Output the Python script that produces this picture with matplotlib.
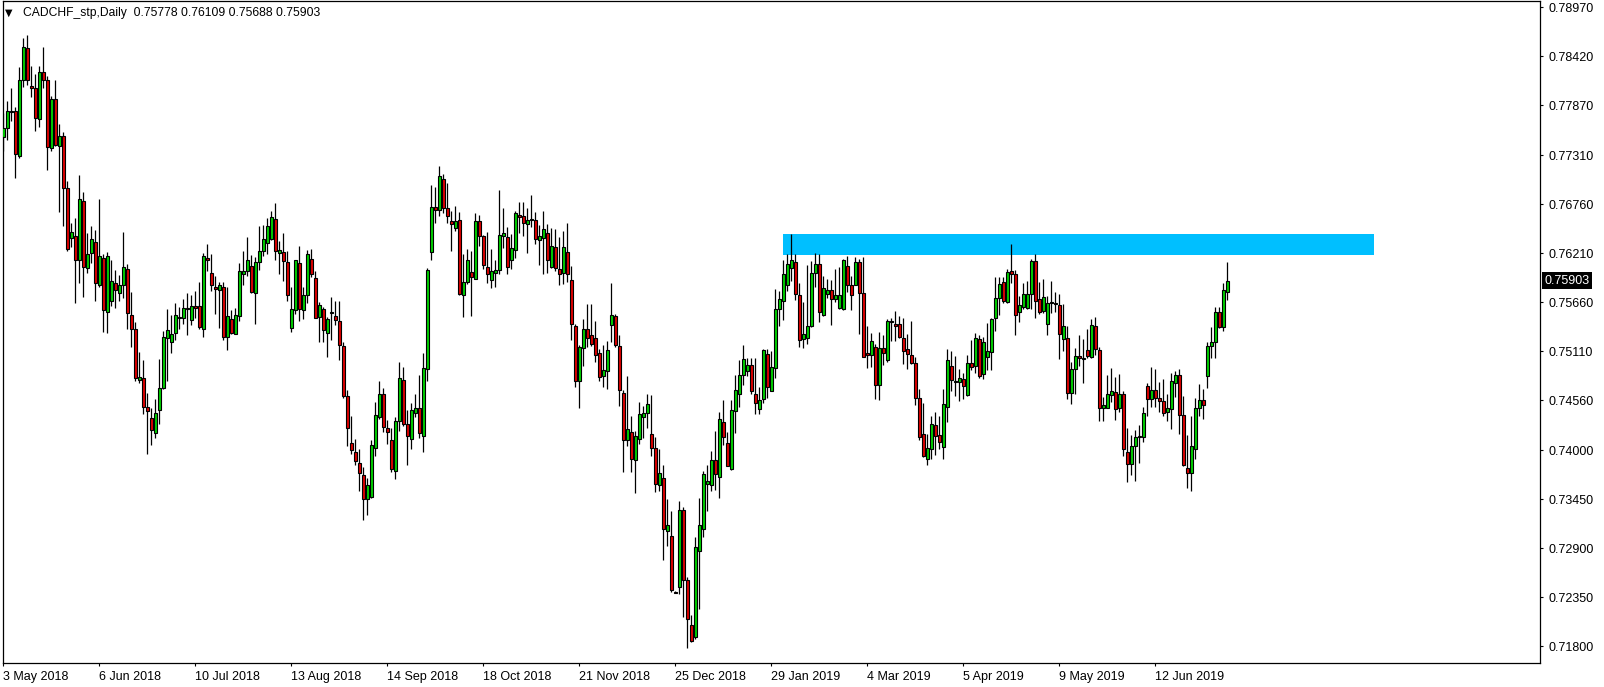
import numpy as np
import matplotlib
matplotlib.use('Agg')
import matplotlib.pyplot as plt
from matplotlib.patches import Rectangle
from matplotlib.transforms import blended_transform_factory

# CADCHF daily candles (one row per bar: open, high, low, close)
opens = [
    0.7751, 0.7762, 0.7780, 0.7781, 0.7730, 0.7816, 0.7851, 0.7809, 0.7807, 0.7772,
    0.7825, 0.7815, 0.7739, 0.7794, 0.7741, 0.7753, 0.7694, 0.7638, 0.7641, 0.7613,
    0.7680, 0.7604, 0.7621, 0.7634, 0.7586, 0.7616, 0.7555, 0.7568, 0.7588, 0.7577,
    0.7585, 0.7603, 0.7552, 0.7536, 0.7479, 0.7481, 0.7449, 0.7436, 0.7419, 0.7445,
    0.7470, 0.7526, 0.7521, 0.7532, 0.7549, 0.7548, 0.7559, 0.7546, 0.7562, 0.7562,
    0.7536, 0.7616, 0.7599, 0.7583, 0.7580, 0.7583, 0.7527, 0.7547, 0.7531, 0.7551,
    0.7598, 0.7601, 0.7607, 0.7577, 0.7611, 0.7624, 0.7633, 0.7637, 0.7660, 0.7621,
    0.7623, 0.7611, 0.7537, 0.7557, 0.7610, 0.7557, 0.7574, 0.7615, 0.7593, 0.7550,
    0.7559, 0.7532, 0.7554, 0.7551, 0.7545, 0.7517, 0.7461, 0.7408, 0.7398, 0.7386,
    0.7372, 0.7345, 0.7348, 0.7403, 0.7437, 0.7463, 0.7425, 0.7412, 0.7377, 0.7433,
    0.7479, 0.7430, 0.7413, 0.7442, 0.7448, 0.7416, 0.7491, 0.7623, 0.7673, 0.7670,
    0.7704, 0.7672, 0.7657, 0.7649, 0.7658, 0.7574, 0.7589, 0.7600, 0.7592, 0.7657,
    0.7641, 0.7606, 0.7591, 0.7599, 0.7602, 0.7640, 0.7639, 0.7614, 0.7625, 0.7664,
    0.7663, 0.7654, 0.7658, 0.7658, 0.7636, 0.7638, 0.7644, 0.7606, 0.7628, 0.7603,
    0.7599, 0.7623, 0.7591, 0.7539, 0.7478, 0.7515, 0.7536, 0.7529, 0.7526, 0.7509,
    0.7483, 0.7489, 0.7541, 0.7551, 0.7517, 0.7464, 0.7411, 0.7420, 0.7389, 0.7413,
    0.7437, 0.7442, 0.7418, 0.7403, 0.7361, 0.7369, 0.7309, 0.7304, 0.7241, 0.7247,
    0.7333, 0.7254, 0.7204, 0.7191, 0.7287, 0.7312, 0.7362, 0.7361, 0.7389, 0.7370,
    0.7432, 0.7408, 0.7379, 0.7444, 0.7463, 0.7484, 0.7489, 0.7496, 0.7463, 0.7446,
    0.7457, 0.7508, 0.7466, 0.7492, 0.7558, 0.7567, 0.7585, 0.7605, 0.7611, 0.7574,
    0.7525, 0.7526, 0.7540, 0.7599, 0.7609, 0.7552, 0.7575, 0.7580, 0.7570, 0.7560,
    0.7559, 0.7607, 0.7586, 0.7586, 0.7611, 0.7576, 0.7509, 0.7507, 0.7516, 0.7473,
    0.7515, 0.7501, 0.7544, 0.7542, 0.7542, 0.7526, 0.7514, 0.7507, 0.7498, 0.7459,
    0.7418, 0.7390, 0.7402, 0.7428, 0.7417, 0.7404, 0.7449, 0.7495, 0.7477, 0.7477,
    0.7480, 0.7462, 0.7498, 0.7495, 0.7525, 0.7486, 0.7505, 0.7510, 0.7548, 0.7571,
    0.7589, 0.7566, 0.7601, 0.7598, 0.7555, 0.7561, 0.7560, 0.7575, 0.7612, 0.7570,
    0.7556, 0.7542, 0.7565, 0.7565, 0.7563, 0.7525, 0.7526, 0.7464, 0.7491, 0.7506,
    0.7502, 0.7513, 0.7505, 0.7540, 0.7513, 0.7447, 0.7448, 0.7462, 0.7465, 0.7447,
    0.7463, 0.7398, 0.7385, 0.7405, 0.7415, 0.7415, 0.7472, 0.7457, 0.7468, 0.7459,
    0.7455, 0.7443, 0.7446, 0.7476, 0.7484, 0.7440, 0.7380, 0.7374, 0.7402, 0.7447,
    0.7456, 0.7483, 0.7517, 0.7522, 0.7555, 0.7538, 0.75778,
]
highs = [
    0.7779, 0.7792, 0.7807, 0.7785, 0.7830, 0.7863, 0.7866, 0.7831, 0.7822, 0.7831,
    0.7853, 0.7820, 0.7798, 0.7816, 0.7766, 0.7757, 0.7702, 0.7655, 0.7661, 0.7709,
    0.7690, 0.7644, 0.7652, 0.7647, 0.7682, 0.7620, 0.7623, 0.7613, 0.7602, 0.7597,
    0.7645, 0.7609, 0.7578, 0.7544, 0.7510, 0.7501, 0.7464, 0.7448, 0.7457, 0.7502,
    0.7534, 0.7559, 0.7552, 0.7565, 0.7561, 0.7570, 0.7577, 0.7574, 0.7579, 0.7589,
    0.7621, 0.7631, 0.7620, 0.7596, 0.7589, 0.7589, 0.7583, 0.7557, 0.7560, 0.7610,
    0.7624, 0.7639, 0.7619, 0.7617, 0.7652, 0.7653, 0.7661, 0.7668, 0.7677, 0.7635,
    0.7644, 0.7624, 0.7583, 0.7614, 0.7629, 0.7583, 0.7625, 0.7626, 0.7601, 0.7566,
    0.7561, 0.7550, 0.7572, 0.7568, 0.7568, 0.7522, 0.7468, 0.7438, 0.7413, 0.7401,
    0.7381, 0.7369, 0.7412, 0.7454, 0.7478, 0.7470, 0.7434, 0.7425, 0.7437, 0.7499,
    0.7494, 0.7445, 0.7453, 0.7463, 0.7485, 0.7509, 0.7604, 0.7698, 0.7695, 0.7719,
    0.7710, 0.7700, 0.7669, 0.7674, 0.7667, 0.7620, 0.7626, 0.7624, 0.7666, 0.7664,
    0.7642, 0.7645, 0.7626, 0.7614, 0.7692, 0.7672, 0.7651, 0.7643, 0.7668, 0.7679,
    0.7679, 0.7672, 0.7686, 0.7667, 0.7653, 0.7669, 0.7654, 0.7649, 0.7648, 0.7639,
    0.7646, 0.7655, 0.7607, 0.7542, 0.7518, 0.7547, 0.7564, 0.7564, 0.7545, 0.7514,
    0.7518, 0.7523, 0.7588, 0.7553, 0.7529, 0.7468, 0.7483, 0.7438, 0.7422, 0.7454,
    0.7450, 0.7463, 0.7462, 0.7415, 0.7402, 0.7383, 0.7345, 0.7332, 0.7242, 0.7343,
    0.7336, 0.7258, 0.7215, 0.7303, 0.7347, 0.7377, 0.7384, 0.7399, 0.7422, 0.7443,
    0.7456, 0.7420, 0.7456, 0.7485, 0.7501, 0.7518, 0.7504, 0.7504, 0.7504, 0.7471,
    0.7514, 0.7514, 0.7511, 0.7581, 0.7579, 0.7613, 0.7620, 0.7643, 0.7620, 0.7588,
    0.7566, 0.7608, 0.7612, 0.7621, 0.7620, 0.7596, 0.7592, 0.7591, 0.7603, 0.7606,
    0.7615, 0.7618, 0.7596, 0.7617, 0.7615, 0.7617, 0.7539, 0.7532, 0.7519, 0.7533,
    0.7529, 0.7547, 0.7548, 0.7556, 0.7551, 0.7548, 0.7530, 0.7545, 0.7505, 0.7469,
    0.7453, 0.7418, 0.7439, 0.7443, 0.7439, 0.7469, 0.7514, 0.7511, 0.7506, 0.7491,
    0.7487, 0.7507, 0.7524, 0.7532, 0.7529, 0.7527, 0.7543, 0.7549, 0.7595, 0.7594,
    0.7595, 0.7603, 0.7632, 0.7602, 0.7573, 0.7588, 0.7590, 0.7615, 0.7620, 0.7589,
    0.7592, 0.7573, 0.7590, 0.7578, 0.7575, 0.7564, 0.7539, 0.7499, 0.7515, 0.7529,
    0.7525, 0.7536, 0.7547, 0.7550, 0.7516, 0.7460, 0.7485, 0.7492, 0.7482, 0.7486,
    0.7467, 0.7425, 0.7417, 0.7423, 0.7428, 0.7449, 0.7476, 0.7494, 0.7491, 0.7477,
    0.7480, 0.7463, 0.7487, 0.7489, 0.7491, 0.7461, 0.7417, 0.7438, 0.7459, 0.7474,
    0.7469, 0.7522, 0.7538, 0.7561, 0.7561, 0.7588, 0.76109,
]
lows = [
    0.7736, 0.7748, 0.7769, 0.7706, 0.7728, 0.7808, 0.7810, 0.7796, 0.7758, 0.7763,
    0.7807, 0.7715, 0.7736, 0.7741, 0.7667, 0.7652, 0.7624, 0.7628, 0.7565, 0.7588,
    0.7572, 0.7599, 0.7610, 0.7567, 0.7583, 0.7533, 0.7532, 0.7562, 0.7560, 0.7567,
    0.7571, 0.7536, 0.7516, 0.7478, 0.7476, 0.7441, 0.7396, 0.7406, 0.7414, 0.7430,
    0.7469, 0.7478, 0.7509, 0.7524, 0.7536, 0.7542, 0.7529, 0.7541, 0.7549, 0.7536,
    0.7527, 0.7601, 0.7579, 0.7553, 0.7537, 0.7524, 0.7513, 0.7531, 0.7530, 0.7545,
    0.7586, 0.7596, 0.7577, 0.7542, 0.7602, 0.7618, 0.7620, 0.7636, 0.7613, 0.7598,
    0.7590, 0.7568, 0.7533, 0.7553, 0.7545, 0.7547, 0.7565, 0.7594, 0.7548, 0.7522,
    0.7522, 0.7505, 0.7524, 0.7541, 0.7501, 0.7459, 0.7405, 0.7396, 0.7383, 0.7354,
    0.7322, 0.7327, 0.7347, 0.7394, 0.7435, 0.7420, 0.7407, 0.7376, 0.7368, 0.7422,
    0.7427, 0.7384, 0.7402, 0.7437, 0.7414, 0.7398, 0.7478, 0.7613, 0.7655, 0.7663,
    0.7666, 0.7655, 0.7624, 0.7646, 0.7574, 0.7550, 0.7587, 0.7551, 0.7592, 0.7629,
    0.7603, 0.7588, 0.7582, 0.7583, 0.7598, 0.7627, 0.7598, 0.7603, 0.7616, 0.7644,
    0.7641, 0.7621, 0.7650, 0.7632, 0.7608, 0.7598, 0.7599, 0.7605, 0.7601, 0.7586,
    0.7587, 0.7589, 0.7524, 0.7471, 0.7448, 0.7495, 0.7516, 0.7517, 0.7499, 0.7478,
    0.7471, 0.7469, 0.7522, 0.7516, 0.7450, 0.7376, 0.7405, 0.7376, 0.7352, 0.7407,
    0.7414, 0.7425, 0.7394, 0.7353, 0.7354, 0.7277, 0.7293, 0.7241, 0.7240, 0.7239,
    0.7213, 0.7178, 0.7185, 0.7188, 0.7222, 0.7303, 0.7332, 0.7354, 0.7356, 0.7347,
    0.7406, 0.7382, 0.7378, 0.7419, 0.7449, 0.7473, 0.7483, 0.7463, 0.7441, 0.7441,
    0.7453, 0.7459, 0.7466, 0.7481, 0.7539, 0.7546, 0.7579, 0.7590, 0.7569, 0.7516,
    0.7515, 0.7519, 0.7538, 0.7583, 0.7544, 0.7551, 0.7571, 0.7541, 0.7566, 0.7559,
    0.7557, 0.7578, 0.7557, 0.7585, 0.7530, 0.7505, 0.7492, 0.7493, 0.7458, 0.7456,
    0.7496, 0.7499, 0.7523, 0.7523, 0.7526, 0.7497, 0.7491, 0.7497, 0.7451, 0.7412,
    0.7393, 0.7384, 0.7390, 0.7395, 0.7402, 0.7390, 0.7432, 0.7466, 0.7461, 0.7455,
    0.7457, 0.7461, 0.7490, 0.7487, 0.7481, 0.7480, 0.7490, 0.7490, 0.7534, 0.7552,
    0.7565, 0.7565, 0.7588, 0.7529, 0.7544, 0.7558, 0.7559, 0.7559, 0.7549, 0.7553,
    0.7554, 0.7529, 0.7554, 0.7555, 0.7502, 0.7511, 0.7458, 0.7452, 0.7463, 0.7495,
    0.7476, 0.7503, 0.7503, 0.7507, 0.7433, 0.7433, 0.7447, 0.7454, 0.7434, 0.7443,
    0.7394, 0.7364, 0.7372, 0.7365, 0.7386, 0.7409, 0.7438, 0.7449, 0.7449, 0.7443,
    0.7438, 0.7433, 0.7424, 0.7460, 0.7418, 0.7382, 0.7358, 0.7354, 0.7390, 0.7438,
    0.7435, 0.7470, 0.7503, 0.7503, 0.7537, 0.7534, 0.75688,
]
closes = [
    0.7762, 0.7781, 0.7781, 0.7732, 0.7816, 0.7852, 0.7816, 0.7806, 0.7773, 0.7825,
    0.7816, 0.7740, 0.7794, 0.7743, 0.7753, 0.7694, 0.7626, 0.7645, 0.7613, 0.7682,
    0.7606, 0.7620, 0.7637, 0.7588, 0.7618, 0.7557, 0.7618, 0.7590, 0.7580, 0.7586,
    0.7606, 0.7554, 0.7536, 0.7481, 0.7482, 0.7449, 0.7444, 0.7423, 0.7442, 0.7470,
    0.7527, 0.7535, 0.7531, 0.7552, 0.7550, 0.7560, 0.7560, 0.7562, 0.7560, 0.7538,
    0.7618, 0.7613, 0.7585, 0.7581, 0.7585, 0.7527, 0.7551, 0.7532, 0.7552, 0.7601,
    0.7601, 0.7614, 0.7578, 0.7611, 0.7624, 0.7637, 0.7652, 0.7662, 0.7624, 0.7625,
    0.7612, 0.7574, 0.7558, 0.7613, 0.7558, 0.7574, 0.7620, 0.7598, 0.7549, 0.7563,
    0.7535, 0.7547, 0.7555, 0.7546, 0.7518, 0.7461, 0.7425, 0.7400, 0.7388, 0.7374,
    0.7345, 0.7361, 0.7406, 0.7440, 0.7463, 0.7426, 0.7421, 0.7379, 0.7433, 0.7481,
    0.7430, 0.7416, 0.7445, 0.7448, 0.7419, 0.7492, 0.7602, 0.7673, 0.7670, 0.7708,
    0.7672, 0.7663, 0.7654, 0.7657, 0.7575, 0.7589, 0.7613, 0.7594, 0.7657, 0.7640,
    0.7608, 0.7598, 0.7601, 0.7602, 0.7642, 0.7644, 0.7606, 0.7627, 0.7666, 0.7662,
    0.7655, 0.7658, 0.7659, 0.7637, 0.7641, 0.7648, 0.7613, 0.7629, 0.7605, 0.7598,
    0.7628, 0.7598, 0.7542, 0.7478, 0.7516, 0.7536, 0.7526, 0.7519, 0.7507, 0.7482,
    0.7490, 0.7512, 0.7552, 0.7518, 0.7468, 0.7412, 0.7424, 0.7390, 0.7416, 0.7441,
    0.7442, 0.7452, 0.7403, 0.7362, 0.7374, 0.7312, 0.7316, 0.7243, 0.7240, 0.7333,
    0.7254, 0.7211, 0.7186, 0.7292, 0.7316, 0.7373, 0.7366, 0.7389, 0.7373, 0.7435,
    0.7415, 0.7382, 0.7445, 0.7468, 0.7484, 0.7502, 0.7496, 0.7466, 0.7453, 0.7456,
    0.7513, 0.7471, 0.7493, 0.7559, 0.7570, 0.7598, 0.7609, 0.7614, 0.7575, 0.7524,
    0.7531, 0.7540, 0.7599, 0.7609, 0.7555, 0.7582, 0.7580, 0.7570, 0.7574, 0.7574,
    0.7613, 0.7586, 0.7574, 0.7611, 0.7576, 0.7505, 0.7507, 0.7523, 0.7473, 0.7515,
    0.7509, 0.7545, 0.7545, 0.7540, 0.7527, 0.7511, 0.7508, 0.7498, 0.7459, 0.7415,
    0.7394, 0.7403, 0.7430, 0.7416, 0.7409, 0.7452, 0.7501, 0.7479, 0.7478, 0.7481,
    0.7472, 0.7498, 0.7494, 0.7526, 0.7483, 0.7522, 0.7511, 0.7547, 0.7571, 0.7587,
    0.7567, 0.7600, 0.7598, 0.7552, 0.7563, 0.7575, 0.7575, 0.7612, 0.7567, 0.7555,
    0.7572, 0.7565, 0.7566, 0.7564, 0.7530, 0.7540, 0.7464, 0.7491, 0.7506, 0.7503,
    0.7503, 0.7506, 0.7541, 0.7514, 0.7447, 0.7451, 0.7463, 0.7466, 0.7446, 0.7463,
    0.7402, 0.7385, 0.7405, 0.7415, 0.7416, 0.7442, 0.7458, 0.7468, 0.7459, 0.7455,
    0.7442, 0.7447, 0.7478, 0.7484, 0.7440, 0.7383, 0.7374, 0.7405, 0.7448, 0.7456,
    0.7451, 0.7517, 0.7522, 0.7555, 0.7538, 0.7580, 0.75903,
]

date_labels = ['3 May 2018', '6 Jun 2018', '10 Jul 2018', '13 Aug 2018', '14 Sep 2018',
               '18 Oct 2018', '21 Nov 2018', '25 Dec 2018', '29 Jan 2019', '4 Mar 2019',
               '5 Apr 2019', '9 May 2019', '12 Jun 2019']
bars_per_label = 24

price_ticks = [0.78970, 0.78420, 0.77870, 0.77310, 0.76760, 0.76210, 0.75660,
               0.75110, 0.74560, 0.74000, 0.73450, 0.72900, 0.72350, 0.71800]

# resistance zone drawn on the chart (bar index range, price range)
zone_bars = (194.9, 342.6)
zone_prices = (0.76196, 0.76430)

symbol = 'CADCHF_stp,Daily'

plt.rcParams['font.family'] = ['Liberation Sans', 'DejaVu Sans']

W, H = 1604, 687
fig = plt.figure(figsize=(W / 100, H / 100), dpi=100)
fig.patch.set_facecolor('white')
# plot box in pixels: x 2.7 -> 1540, y 1 -> 662.7
ax = fig.add_axes([2.7 / W, 1 - 662.7 / H, (1540 - 2.7) / W, (662.7 - 1) / H])

o = np.array(opens)
h = np.array(highs)
l = np.array(lows)
c = np.array(closes)
x = np.arange(len(o))

up = c >= o
colors = np.where(up, '#00D000', '#DD0000')
bottoms = np.minimum(o, c)
heights = np.maximum(np.abs(c - o), 0.00002)

ax.add_patch(Rectangle((zone_bars[0], zone_prices[0]), zone_bars[1] - zone_bars[0],
                       zone_prices[1] - zone_prices[0], facecolor='#00BFFF',
                       edgecolor='none', zorder=1))
ax.vlines(x, l, h, color='black', linewidth=0.9, zorder=2)
ax.bar(x, heights, bottom=bottoms, width=0.75, color=colors, edgecolor='black',
       linewidth=0.8, zorder=3)

ax.set_xlim(-0.15, 384.2)
ax.set_ylim(0.71617, 0.79041)

ax.yaxis.tick_right()
ax.set_yticks(price_ticks)
ax.set_yticklabels(['%.5f' % p for p in price_ticks])
ax.tick_params(axis='y', direction='out', length=2.5, width=0.8, pad=3.3,
               labelsize=9, colors='black')

ax.set_xticks(np.arange(len(date_labels)) * bars_per_label)
ax.set_xticklabels(date_labels, ha='left')
ax.tick_params(axis='x', direction='out', length=2.5, width=0.8, pad=3.5,
               labelsize=9, colors='black')

for sp in ax.spines.values():
    sp.set_linewidth(0.9)
    sp.set_color('black')

# last price marker on the price scale
tr = blended_transform_factory(ax.transAxes, ax.transData)
ax.text(1.0029, c[-1], '%.5f' % c[-1], transform=tr, color='white', fontsize=9,
        va='center', ha='left', clip_on=False,
        bbox=dict(facecolor='black', edgecolor='none', boxstyle='square,pad=0.22'))

# header line
fig.text(9 / W, 1 - 13 / H, '\u25bc', fontsize=7, va='center', ha='center',
         family='DejaVu Sans')
fig.text(22.7 / W, 1 - 13 / H,
         '%s  %.5f %.5f %.5f %.5f' % (symbol, o[-1], h[-1], l[-1], c[-1]),
         fontsize=8.7, va='center', ha='left')

fig.savefig('out.png', dpi=100, facecolor='white')
